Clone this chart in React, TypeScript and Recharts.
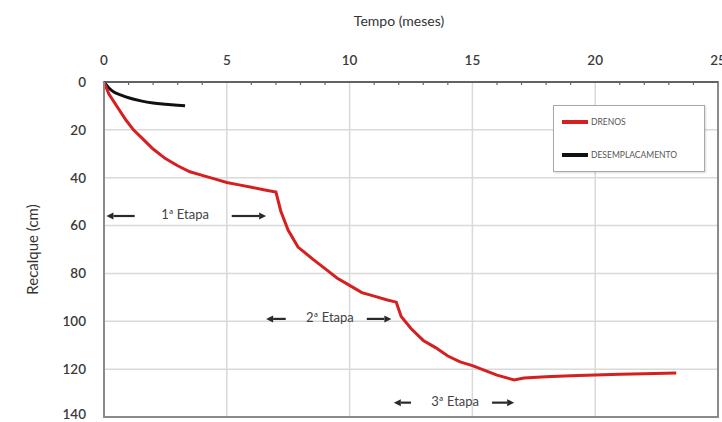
import React from "react";
import {
  LineChart,
  Line,
  XAxis,
  YAxis,
  CartesianGrid,
  Legend,
  ReferenceArea,
  ReferenceLine,
  ReferenceDot,
} from "recharts";

// Recalque medido com drenos (meses, cm)
const drenosMeses = [
  0, 0.2, 0.45, 0.9, 1.2, 1.6, 2.0, 2.5, 3.0, 3.5, 4.0, 4.5, 5.0, 5.5, 6.0,
  6.5, 7.0, 7.2, 7.5, 7.9, 8.5, 9.0, 9.5, 10.0, 10.5, 11.0, 11.5, 11.9, 12.1,
  12.5, 13.0, 13.5, 14.0, 14.5, 15.0, 15.5, 16.0, 16.7, 17.1, 18, 19, 20, 21,
  22, 23.3,
];
const drenosRecalque = [
  0, 5, 9, 16, 20, 24, 28, 32, 35, 37.5, 39, 40.5, 42, 43, 44, 45, 46, 54, 62,
  69, 74, 78, 82, 85, 88, 89.5, 91, 92, 98, 103, 108, 111, 114.5, 117, 118.5,
  120.5, 122.5, 124.5, 123.7, 123.2, 122.8, 122.4, 122.1, 121.9, 121.6,
];

const segundaMeses = [0, 0.2, 0.4, 0.7, 1.0, 1.5, 2.0, 2.5, 3.0, 3.3];
const segundaRecalque = [0, 2.5, 4.2, 5.5, 6.6, 7.9, 8.8, 9.3, 9.7, 9.9];

const xTicks = Array.from({ length: 26 }, (_, i) => i);
const xGrid = [0, 5, 10, 15, 20, 25];
const yTicks = [0, 20, 40, 60, 80, 100, 120, 140];

// Etapas de carregamento: rótulo, cota, setas
const etapaNomes = ["1ª Etapa", "2ª Etapa", "3ª Etapa"];
const etapaY = [56, 99, 134];
const etapaTextoX = [3.3, 9.2, 14.3];
const setaEsqDe = [1.25, 7.4, 12.5];
const setaEsqAte = [0.1, 6.6, 11.8];
const setaDirDe = [5.2, 10.7, 15.8];
const setaDirAte = [6.6, 11.7, 16.7];

const drenos = drenosMeses.map((t, i) => ({ t, v: drenosRecalque[i] }));
const segunda = segundaMeses.map((t, i) => ({ t, v: segundaRecalque[i] }));

const FONT = "Lato, 'Open Sans', sans-serif";

const TopTick = (props: any) => {
  const { x, y, payload } = props;
  const v = payload.value;
  const axisY = y + 16;
  if (v % 5 === 0) {
    return (
      <text
        x={x}
        y={y - 1}
        textAnchor="middle"
        fontFamily={FONT}
        fontSize={13.5}
        fontWeight={600}
        fill="#3a3a3a"
      >
        {v}
      </text>
    );
  }
  return <line x1={x} x2={x} y1={axisY - 1} y2={axisY + 3} stroke="#666" strokeWidth={1.2} />;
};

const Arrow = (props: any) => {
  const { x1, y1, x2, y2 } = props;
  const dir = x2 >= x1 ? 1 : -1;
  const head = 7;
  return (
    <g>
      <line x1={x1} y1={y1} x2={x2 - dir * head} y2={y2} stroke="#2a2a2a" strokeWidth={2.2} />
      <polygon
        points={`${x2},${y2} ${x2 - dir * head},${y2 - 3.5} ${x2 - dir * head},${y2 + 3.5}`}
        fill="#2a2a2a"
      />
    </g>
  );
};

const LegendBox = () => (
  <div
    style={{
      width: 150,
      height: 65,
      border: "1px solid #a8a8a8",
      background: "#fff",
      boxShadow: "1px 1px 2px rgba(0,0,0,0.15)",
      fontFamily: FONT,
      fontSize: 8.5,
      color: "#555",
      position: "relative",
    }}
  >
    <div style={{ position: "absolute", left: 8, top: 11, display: "flex", alignItems: "center" }}>
      <span style={{ width: 26, height: 4, background: "#d62020", marginRight: 3 }} />
      <span>DRENOS</span>
    </div>
    <div style={{ position: "absolute", left: 8, top: 44, display: "flex", alignItems: "center" }}>
      <span style={{ width: 26, height: 4, background: "#111", marginRight: 3 }} />
      <span>DESEMPLACAMENTO</span>
    </div>
  </div>
);

export default function App() {
  return (
    <div style={{ position: "absolute", left: 0, top: 0, background: "#fff" }}>
      <LineChart
        width={722}
        height={422}
        margin={{ top: 8, right: 4, bottom: 5, left: 0 }}
      >
        <CartesianGrid
          stroke="#d9d9d9"
          strokeWidth={1.5}
          verticalValues={xGrid}
          horizontalValues={yTicks}
        />
        <ReferenceArea
          x1={0}
          x2={25}
          y1={0}
          y2={140}
          fill="none"
          stroke="#8a8a8a"
          strokeWidth={2}
        />
        <XAxis
          type="number"
          dataKey="t"
          orientation="top"
          domain={[0, 25]}
          ticks={xTicks}
          interval={0}
          height={74}
          tickSize={0}
          tickMargin={16}
          tickLine={false}
          axisLine={{ stroke: "#555", strokeWidth: 1.5 }}
          tick={<TopTick />}
          label={{
            content: (p: any) => (
              <text
                x={p.viewBox.x + p.viewBox.width / 2 - 12}
                y={26}
                textAnchor="middle"
                fontFamily={FONT}
                fontSize={14}
                fill="#333"
              >
                Tempo (meses)
              </text>
            ),
          }}
        />
        <YAxis
          type="number"
          dataKey="v"
          reversed
          domain={[0, 140]}
          ticks={yTicks}
          width={104}
          tickSize={0}
          tickMargin={18}
          tickLine={false}
          axisLine={{ stroke: "#8a8a8a", strokeWidth: 2 }}
          tick={{ fontFamily: FONT, fontSize: 13.5, fontWeight: 600, fill: "#3a3a3a" }}
          label={{
            content: (p: any) => {
              const cy = p.viewBox.y + p.viewBox.height / 2;
              return (
                <text
                  x={34}
                  y={cy}
                  transform={`rotate(-90 34 ${cy})`}
                  textAnchor="middle"
                  dominantBaseline="middle"
                  fontFamily={FONT}
                  fontSize={15}
                  fill="#333"
                >
                  Recalque (cm)
                </text>
              );
            },
          }}
        />
        {etapaNomes.map((nome, i) => (
          <ReferenceLine
            key={`e${i}`}
            segment={[
              { x: setaEsqDe[i], y: etapaY[i] },
              { x: setaEsqAte[i], y: etapaY[i] },
            ]}
            shape={<Arrow />}
          />
        ))}
        {etapaNomes.map((nome, i) => (
          <ReferenceLine
            key={`d${i}`}
            segment={[
              { x: setaDirDe[i], y: etapaY[i] },
              { x: setaDirAte[i], y: etapaY[i] },
            ]}
            shape={<Arrow />}
          />
        ))}
        {etapaNomes.map((nome, i) => (
          <ReferenceDot
            key={`t${i}`}
            x={etapaTextoX[i]}
            y={etapaY[i]}
            r={0}
            shape={(p: any) => (
              <text
                x={p.cx}
                y={p.cy}
                textAnchor="middle"
                dominantBaseline="middle"
                fontFamily={FONT}
                fontSize={13}
                fill="#444"
              >
                {nome}
              </text>
            )}
          />
        ))}
        <Line
          data={segunda}
          dataKey="v"
          name="DESEMPLACAMENTO"
          type="monotone"
          stroke="#111"
          strokeWidth={3}
          dot={false}
          isAnimationActive={false}
        />
        <Line
          data={drenos}
          dataKey="v"
          name="DRENOS"
          type="linear"
          stroke="#d62020"
          strokeWidth={3}
          dot={false}
          isAnimationActive={false}
        />
        {/* horizontal + middle keeps the legend out of the plot offset */}
        <Legend
          layout="horizontal"
          verticalAlign="middle"
          align="center"
          content={<LegendBox />}
          wrapperStyle={{ left: 553, top: 105, width: 152, height: 67 }}
        />
      </LineChart>
    </div>
  );
}
